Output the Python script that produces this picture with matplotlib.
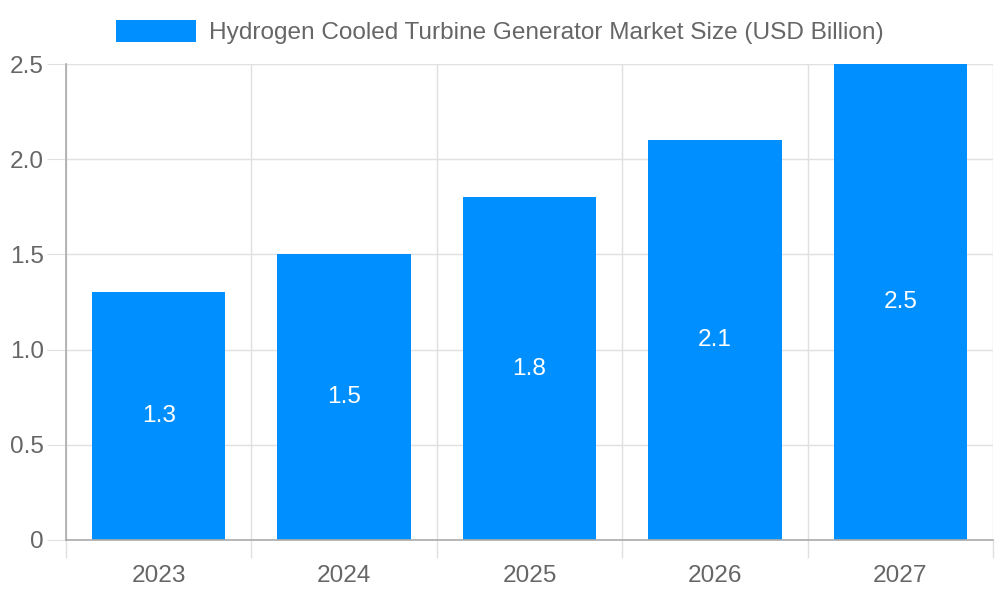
import matplotlib.pyplot as plt
import numpy as np

years = ['2023', '2024', '2025', '2026', '2027']
market_size = [1.3, 1.5, 1.8, 2.1, 2.5]
y_ticks = [0, 0.5, 1.0, 1.5, 2.0, 2.5]
y_tick_labels = ['0', '0.5', '1.0', '1.5', '2.0', '2.5']

plt.rcParams['font.family'] = ['Liberation Sans', 'DejaVu Sans']
text_color = '#666666'
bar_color = '#008FFF'
grid_color = '#e0e0e0'
fs = 17.6

fig = plt.figure(figsize=(10, 6), dpi=100)
ax = fig.add_axes([0.066, 0.1, 0.927, 0.7933])

x = np.arange(len(years))
bars = ax.bar(x, market_size, width=0.72, color=bar_color, zorder=2,
              label='Hydrogen Cooled Turbine Generator Market Size (USD Billion)')

for xi, v in zip(x, market_size):
    ax.text(xi, v / 2, f'{v:.1f}', ha='center', va='center', color='white',
            fontsize=fs, zorder=3)

ax.set_xlim(-0.5, len(years) - 0.5)
ax.set_ylim(0, 2.5)
ax.set_xticks(x)
ax.set_xticklabels(years)
ax.set_xticks(np.arange(-0.5, len(years)), minor=True)
ax.set_yticks(y_ticks)
ax.set_yticklabels(y_tick_labels)

ax.tick_params(axis='x', which='major', length=0, pad=18, labelsize=fs, labelcolor=text_color)
ax.tick_params(axis='x', which='minor', length=13, color=grid_color, width=1)
ax.tick_params(axis='y', length=14, color=grid_color, pad=2, labelsize=fs, labelcolor=text_color)

ax.grid(axis='x', which='minor', color=grid_color, linewidth=1, zorder=0)
ax.grid(axis='y', which='major', color=grid_color, linewidth=1, zorder=0)

for side in ['top', 'right']:
    ax.spines[side].set_visible(False)
for side in ['left', 'bottom']:
    ax.spines[side].set_color('#aaaaaa')
    ax.spines[side].set_linewidth(1.2)

leg = ax.legend(loc='lower center', bbox_to_anchor=(0.4677, 0.995), frameon=False,
                fontsize=fs, handlelength=3.3, handleheight=1.0, handletextpad=0.5)
for t in leg.get_texts():
    t.set_color(text_color)

fig.savefig('out.png', dpi=100)
